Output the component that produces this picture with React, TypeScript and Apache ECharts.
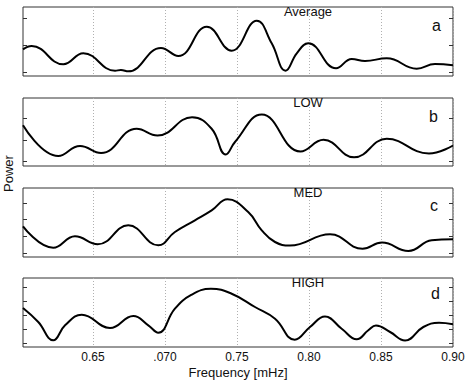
import React, { useEffect, useRef } from "react";
import * as echarts from "echarts";

// Frequency ticks (mHz)
const xTicks = [0.65, 0.7, 0.75, 0.8, 0.85, 0.9];
const xMin = 0.6014;
const xMax = 0.9;

const panelNames = ["Average", "LOW", "MED", "HIGH"];
const panelLetters = ["a", "b", "c", "d"];

// Panel a: Average
const freqA = [0.6014, 0.6074, 0.6294, 0.6433, 0.6653, 0.6694, 0.6745, 0.6972, 0.7092, 0.729, 0.7463, 0.7637, 0.7741, 0.7838, 0.7915, 0.7995, 0.8188, 0.8297, 0.8389, 0.854, 0.8748, 0.8875, 0.9];
const powA = [0.845, 0.968, 0.287, 0.696, 0.048, 0.074, 0.026, 0.894, 0.596, 1.687, 0.793, 1.911, 1.069, 0.048, 0.696, 1.069, 0.138, 0.484, 0.41, 0.51, 0.123, 0.298, 0.25];

// Panel b: LOW
const freqB = [0.6014, 0.6259, 0.641, 0.6556, 0.6803, 0.6948, 0.7188, 0.7324, 0.7422, 0.7486, 0.7672, 0.7941, 0.8101, 0.8313, 0.854, 0.8833, 0.9];
const powB = [1.688, 0.236, 0.709, 0.378, 1.527, 1.206, 2.071, 1.527, 0.307, 0.898, 2.199, 0.449, 1.002, 0.175, 1.05, 0.355, 0.733];

// Panel c: MED
const freqC = [0.6014, 0.6224, 0.6375, 0.6533, 0.6745, 0.6953, 0.7069, 0.7208, 0.7324, 0.7434, 0.7578, 0.7672, 0.7764, 0.7868, 0.8146, 0.8372, 0.8507, 0.869, 0.8852, 0.9];
const powC = [1.602, 0.318, 1.002, 0.522, 1.662, 0.462, 1.26, 1.962, 2.561, 3.221, 2.46, 1.362, 0.66, 0.45, 1.122, 0.252, 0.63, 0.12, 0.762, 0.822];

// Panel d: HIGH
const freqD = [0.6014, 0.612, 0.6224, 0.6306, 0.6422, 0.6618, 0.678, 0.6884, 0.6953, 0.7069, 0.7185, 0.7319, 0.7463, 0.7625, 0.7764, 0.7901, 0.8007, 0.8111, 0.8227, 0.8331, 0.8412, 0.8465, 0.8563, 0.8667, 0.8794, 0.8903, 0.9];
const powD = [2.5, 1.5, 0.193, 1.264, 2.021, 1.071, 1.929, 1.264, 0.736, 2.45, 3.45, 3.871, 3.521, 2.571, 1.736, 0.229, 1.143, 1.893, 1.02, 0.264, 0.907, 1.25, 0.786, 0.179, 1.143, 1.443, 1.336];

// y tick values per panel
const yTicksA = [0, 1, 2];
const yTicksB = [0, 1, 2];
const yTicksC = [0, 1, 2, 3];
const yTicksD = [0, 1, 2, 3, 4];

const FONT = "'Liberation Sans', Arial, Helvetica, sans-serif";

export default function App() {
  const ref = useRef<HTMLDivElement>(null);
  useEffect(() => {
    if (!ref.current) return;
    const chart = echarts.init(ref.current, undefined, { renderer: "svg" });

    const freqs = [freqA, freqB, freqC, freqD];
    const pows = [powA, powB, powC, powD];
    const yTicks = [yTicksA, yTicksB, yTicksC, yTicksD];
    const layout = [
      { top: 7, height: 69, min: -0.149, max: 2.421 },
      { top: 98, height: 68, min: -0.236, max: 2.979 },
      { top: 188, height: 69, min: -0.24, max: 3.9 },
      { top: 278, height: 69, min: -0.286, max: 4.643 },
    ];
    const letterPos = [
      { x: 436.5, y: 25 },
      { x: 433.5, y: 116.5 },
      { x: 434, y: 205.5 },
      { x: 435.5, y: 293 },
    ];

    const grid = layout.map((l) => ({
      left: 23,
      width: 430,
      top: l.top,
      height: l.height,
      show: true,
      borderColor: "#333",
      borderWidth: 1,
      backgroundColor: "transparent",
      containLabel: false,
    }));

    const xAxis = layout.map((l, i) => ({
      type: "value",
      gridIndex: i,
      min: xMin,
      max: xMax,
      axisLine: { show: false },
      axisTick: { show: false, customValues: xTicks },
      splitLine: {
        show: true,
        lineStyle: { color: "#b0b0b0", type: [1, 2], width: 1 },
      },
      axisLabel: {
        show: i === 3,
        customValues: xTicks,
        margin: 4,
        fontSize: 12,
        fontFamily: FONT,
        color: "#111",
        formatter: (v: number) =>
          Math.abs(v - 0.7) < 1e-6 ? ".070" : v.toFixed(2),
      },
    }));

    const yAxis: any[] = [];
    layout.forEach((l, i) => {
      ["left", "right"].forEach((pos) => {
        yAxis.push({
          type: "value",
          gridIndex: i,
          position: pos,
          min: l.min,
          max: l.max,
          axisLine: { show: false },
          axisTick: {
            show: true,
            inside: true,
            length: 4,
            customValues: yTicks[i],
            lineStyle: { color: "#333", width: 1 },
          },
          axisLabel: { show: false, customValues: yTicks[i] },
          splitLine: { show: false },
        });
      });
    });

    const series = freqs.map((f, i) => ({
      type: "line",
      xAxisIndex: i,
      yAxisIndex: i * 2,
      data: f.map((x, j) => [x, pows[i][j]]),
      smooth: 0.45,
      symbol: "none",
      lineStyle: { color: "#000", width: 2 },
    }));

    const graphic: any[] = [];
    layout.forEach((l, i) => {
      graphic.push({
        type: "text",
        x: 308,
        y: l.top - 2.5,
        style: {
          text: panelNames[i],
          fontSize: 13,
          fontFamily: FONT,
          fill: "#111",
          textAlign: "center",
          textVerticalAlign: "top",
        },
        z: 10,
      });
      graphic.push({
        type: "text",
        x: letterPos[i].x,
        y: letterPos[i].y,
        style: {
          text: panelLetters[i],
          fontSize: 16,
          fontFamily: FONT,
          fill: "#111",
          textAlign: "center",
          textVerticalAlign: "middle",
        },
        z: 10,
      });
    });
    graphic.push({
      type: "text",
      x: 8,
      y: 173.5,
      rotation: Math.PI / 2,
      style: {
        text: "Power",
        fontSize: 13,
        fontFamily: FONT,
        fill: "#111",
        textAlign: "center",
        textVerticalAlign: "middle",
      },
    });
    graphic.push({
      type: "text",
      x: 238,
      y: 372,
      style: {
        text: "Frequency [mHz]",
        fontSize: 13,
        fontFamily: FONT,
        fill: "#111",
        textAlign: "center",
        textVerticalAlign: "middle",
      },
    });

    chart.setOption({
      animation: false,
      backgroundColor: "#fff",
      grid,
      xAxis,
      yAxis,
      series,
      graphic,
    });
    return () => chart.dispose();
  }, []);

  return (
    <div
      ref={ref}
      style={{ position: "fixed", left: 0, top: 0, width: 474, height: 387 }}
    />
  );
}
